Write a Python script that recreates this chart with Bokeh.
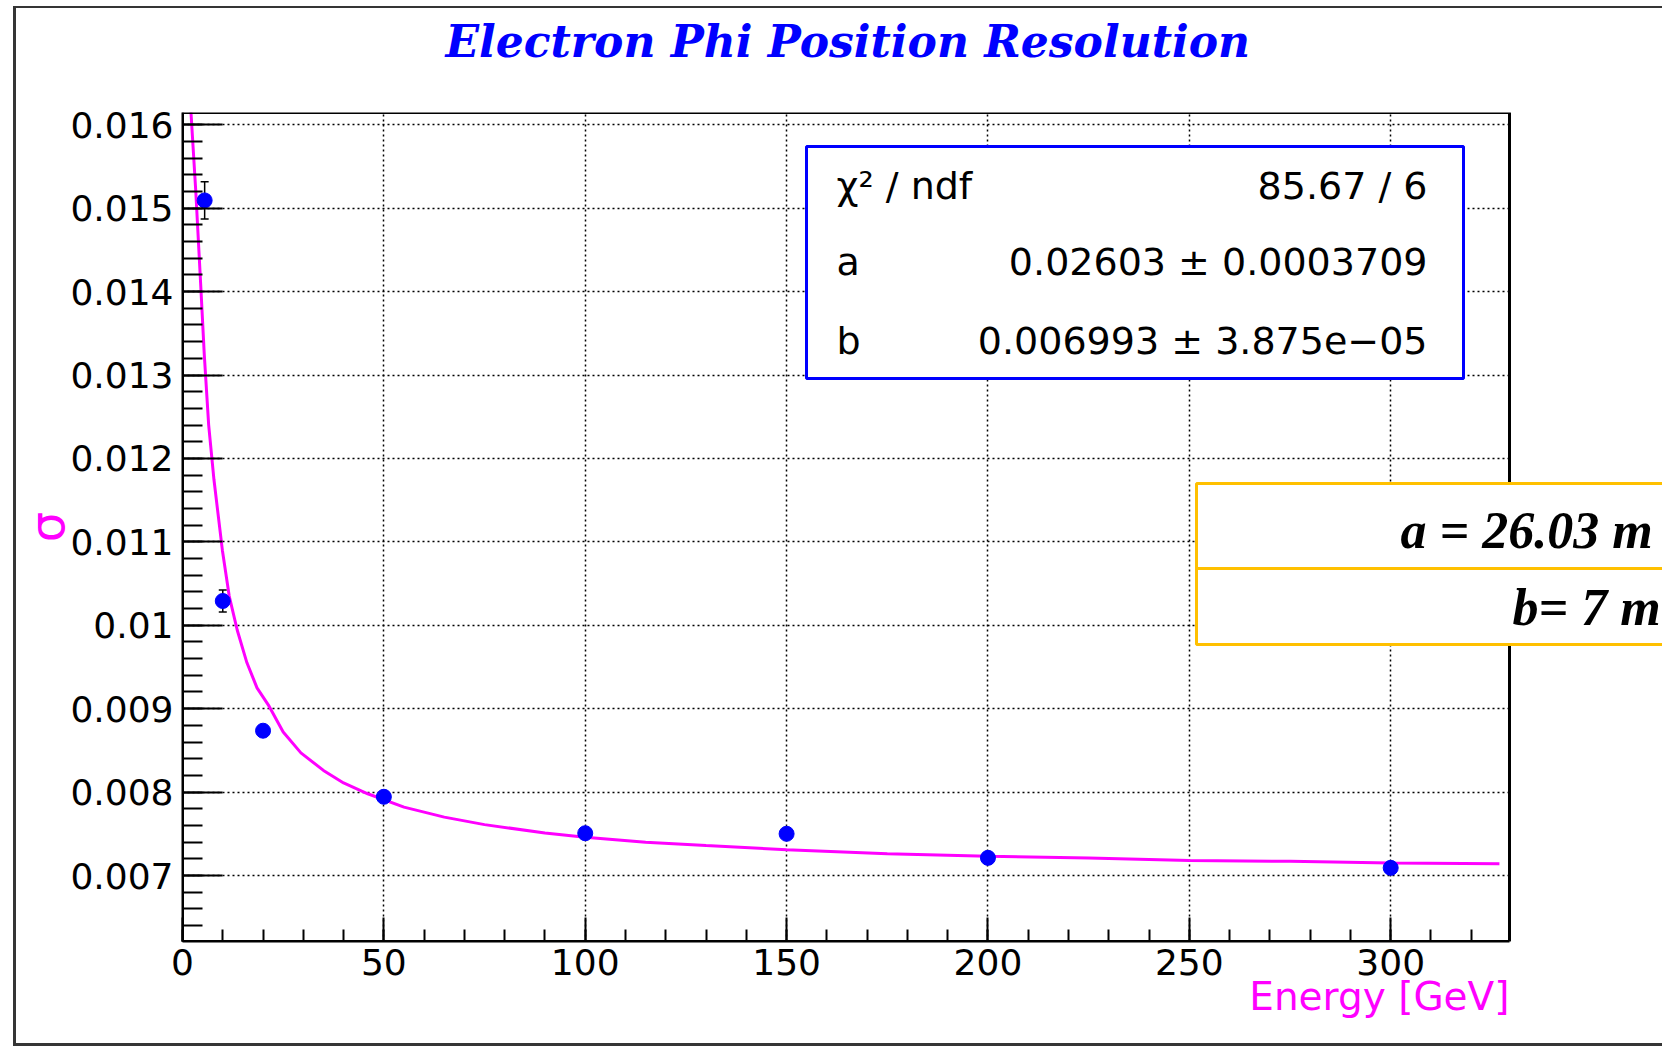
from bokeh.plotting import figure
from bokeh.models import (FixedTicker, BoxAnnotation, Label, Whisker, ColumnDataSource,
                          Range1d, TeeHead, Title)
from bokeh.embed import file_html
from bokeh.resources import INLINE
import numpy as np

# ---------------- data ----------------
energy = [5.5, 10, 20, 50, 100, 150, 200, 300]
sigma = [0.015093, 0.010291, 0.008736, 0.007944, 0.007507, 0.007500, 0.007212, 0.007092]
sigma_err = [0.000224, 0.000132, 0.000040, 0.000020, 0.000020, 0.000020, 0.000020, 0.000020]

fit_energy = [2.1, 3.3, 4.5, 5.4, 6.5, 7.8, 9.9, 11.6, 13.6, 16, 18.5, 21.5, 25, 29.4, 35, 40,
              46, 55, 65, 75, 90, 100, 115, 130, 150, 175, 200, 225, 250, 275, 300, 327]
fit_sigma = [0.01615, 0.01520, 0.01410, 0.01325, 0.01240, 0.01175, 0.01090, 0.01035, 0.00994,
             0.00955, 0.00925, 0.00903, 0.00872, 0.00847, 0.00826, 0.00811, 0.00798, 0.00782,
             0.00770, 0.00761, 0.00751, 0.00746, 0.00740, 0.00736, 0.00731, 0.00726, 0.00723,
             0.00721, 0.00718, 0.00717, 0.00715, 0.00714]

x_ticks = [0, 50, 100, 150, 200, 250, 300]
x_tick_labels = ["0", "50", "100", "150", "200", "250", "300"]
y_ticks = [0.007, 0.008, 0.009, 0.010, 0.011, 0.012, 0.013, 0.014, 0.015, 0.016]
y_tick_labels = ["0.007", "0.008", "0.009", "0.01", "0.011", "0.012", "0.013", "0.014", "0.015", "0.016"]

stats_names = ["χ² / ndf", "a", "b"]
stats_values = ["85.67 / 6", "0.02603 ± 0.0003709", "0.006993 ± 3.875e−05"]
note_lines = ["a = 26.03 m", "b= 7 m"]

title_text = "Electron Phi Position Resolution"
x_label = "Energy [GeV]"
y_label = "σ"

X_MIN, X_MAX = 0, 329.5          # drawn axis extent
Y_MIN, Y_MAX = 0.006209, 0.016147

MAGENTA = "#ff00ff"
BLUE = "#0000ff"

# ---------------- figure ----------------
# canvas 1649 x 1035 (the left border is added to the requested width); the
# frame runs to the right canvas edge so that the note box can run off the
# picture as in the reference
FRAME_PX = 1483
PX_PER_UNIT = 1327 / (X_MAX - X_MIN)
p = figure(width=1646, height=1035, output_backend="svg", toolbar_location=None,
           x_range=Range1d(X_MIN, X_MIN + FRAME_PX / PX_PER_UNIT), y_range=Range1d(Y_MIN, Y_MAX),
           min_border_left=166, min_border_right=0, min_border_top=104, min_border_bottom=102,
           title=None)
p.styles = {"box-sizing": "content-box", "margin-left": "13px", "margin-top": "8px",
            "border-left": "3px solid #353535",
            "box-shadow": "0 -2px 0 0 #353535, 0 3px 0 0 #353535"}
p.background_fill_color = "white"
p.border_fill_color = "white"
p.outline_line_color = None

# title: a thin spacer next to the frame, then the title itself
spacer = Title(text=" ", text_font_size="2px", standoff=41)
p.add_layout(spacer, "above")
main_title = Title(text=title_text, align="left", offset=263, standoff=2,
                   text_font="DejaVu Serif", text_font_style="bold italic",
                   text_font_size="44px", text_color=BLUE)
p.add_layout(main_title, "above")

# axes
xa = p.xaxis[0]
ya = p.yaxis[0]
xa.bounds = (X_MIN, X_MAX)
xa.ticker = FixedTicker(ticks=x_ticks, minor_ticks=list(range(0, 330, 10)))
ya.ticker = FixedTicker(ticks=y_ticks,
                        minor_ticks=[round(v, 5) for v in np.arange(0.0062, 0.01616, 0.0002)])
xa.major_label_overrides = dict(zip(x_ticks, x_tick_labels))
ya.major_label_overrides = dict(zip(y_ticks, y_tick_labels))

for ax in (xa, ya):
    ax.axis_line_color = "black"
    ax.axis_line_width = 2
    ax.major_tick_line_color = "black"
    ax.major_tick_line_width = 2
    ax.minor_tick_line_color = "black"
    ax.minor_tick_line_width = 2
    ax.major_tick_out = 0
    ax.minor_tick_out = 0
    ax.major_label_text_font = "DejaVu Sans"
    ax.major_label_text_font_size = "36px"
    ax.major_label_text_color = "black"
    ax.axis_label_text_font = "DejaVu Sans"
    ax.axis_label_text_font_style = "normal"
    ax.axis_label_text_color = MAGENTA

xa.major_tick_in = 24
xa.minor_tick_in = 12
ya.major_tick_in = 40
ya.minor_tick_in = 20
xa.major_label_standoff = 7
ya.major_label_standoff = 9

ya.axis_label = y_label
ya.axis_label_text_font_size = "48px"
try:
    ya.axis_label_standoff = -8
except Exception:
    ya.axis_label_standoff = 0

# x-axis title, right-aligned to the end of the drawn axis
x_title = Title(text=x_label, align="right", offset=156, vertical_align="top",
                text_font="DejaVu Sans", text_font_style="normal", text_font_size="39px",
                text_color=MAGENTA)
try:
    x_title.standoff = -8
except Exception:
    x_title.standoff = 0
p.add_layout(x_title, "below")

for g in (p.xgrid[0], p.ygrid[0]):
    g.grid_line_color = "black"
    g.grid_line_dash = "2 3"
    g.grid_line_width = 1.5

# ---------------- glyphs ----------------
src = ColumnDataSource(dict(x=energy, y=sigma,
                            lo=[s - e for s, e in zip(sigma, sigma_err)],
                            hi=[s + e for s, e in zip(sigma, sigma_err)]))
p.line(fit_energy, fit_sigma, line_color=MAGENTA, line_width=3)
wh = Whisker(base="x", lower="lo", upper="hi", source=src, line_color="black", line_width=1.5,
             upper_head=TeeHead(size=8, line_color="black", line_width=1.5),
             lower_head=TeeHead(size=8, line_color="black", line_width=1.5))
p.add_layout(wh)
p.scatter("x", "y", source=src, marker="circle", size=15, fill_color=BLUE, line_color=BLUE)

# blank area right of the drawn axis range, then the plot-area border
p.add_layout(BoxAnnotation(left=X_MAX, fill_color="white", fill_alpha=1.0, line_alpha=0))
p.add_layout(BoxAnnotation(left=X_MIN, right=X_MAX, fill_alpha=0,
                           line_color="black", line_width=3, line_alpha=1.0))

# ---------------- stats box (frame-relative screen units) ----------------
stats_box = BoxAnnotation(left=624, right=1281, top=795, bottom=563,
                          left_units="screen", right_units="screen",
                          top_units="screen", bottom_units="screen",
                          fill_color="white", fill_alpha=1.0,
                          line_color=BLUE, line_width=3, line_alpha=1.0)
p.add_layout(stats_box)
row_y = [756, 680, 601]
for name, val, yy in zip(stats_names, stats_values, row_y):
    p.add_layout(Label(x=654, y=yy, x_units="screen", y_units="screen", text=name,
                       text_font="DejaVu Sans", text_font_size="38px",
                       text_color="black", text_align="left", text_baseline="alphabetic"))
    p.add_layout(Label(x=1245, y=yy, x_units="screen", y_units="screen", text=val,
                       text_font="DejaVu Sans", text_font_size="38px",
                       text_color="black", text_align="right", text_baseline="alphabetic"))

# ---------------- yellow note box ----------------
for top, bottom in ((458, 373), (373, 297)):
    p.add_layout(BoxAnnotation(left=1014, right=1520, top=top, bottom=bottom,
                               left_units="screen", right_units="screen",
                               top_units="screen", bottom_units="screen",
                               fill_color="white", fill_alpha=1.0,
                               line_color="#ffc000", line_width=3, line_alpha=1.0))
for txt, xx, yy in zip(note_lines, [1218, 1330], [411, 334]):
    p.add_layout(Label(x=xx, y=yy, x_units="screen", y_units="screen", text=txt,
                       text_font="Liberation Serif", text_font_style="bold italic",
                       text_font_size="52px", text_color="black", text_baseline="alphabetic"))

open("out.html", "w").write(file_html(p, INLINE))
